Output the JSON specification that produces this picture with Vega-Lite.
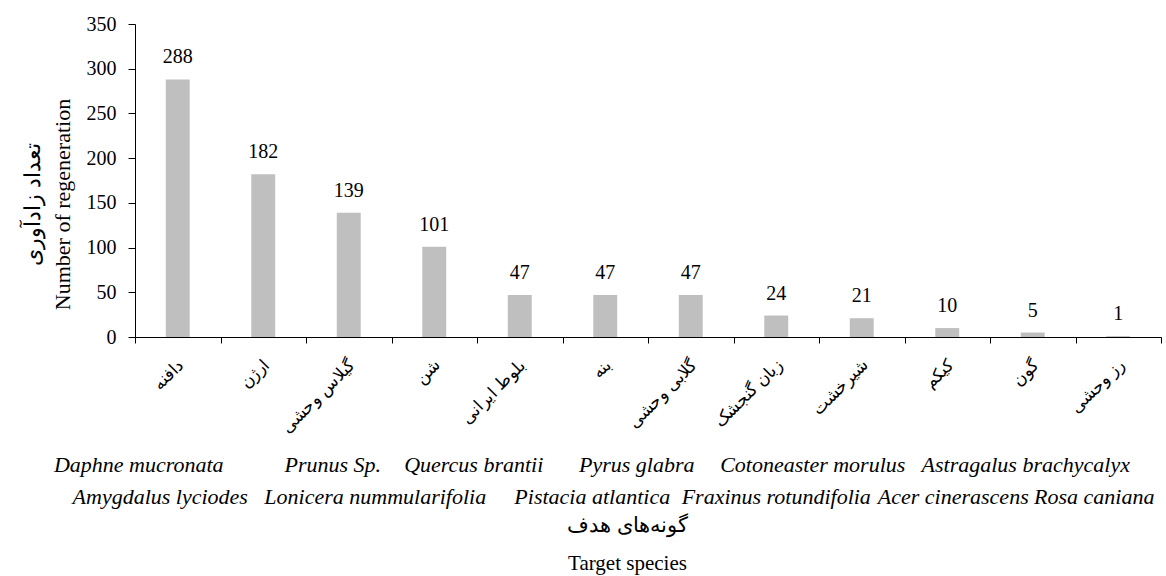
{
  "$schema": "https://vega.github.io/schema/vega-lite/v6.json",
  "width": 1026,
  "height": 313,
  "autosize": {"type": "none"},
  "padding": {"left": 135, "top": 24, "right": 5, "bottom": 239},
  "config": {
    "view": {"stroke": null},
    "font": "Liberation Serif",
    "axis": {
      "domainColor": "#000000",
      "tickColor": "#000000",
      "labelColor": "#000000",
      "titleColor": "#000000",
      "labelFont": "Liberation Serif",
      "titleFont": "Liberation Serif",
      "titleFontWeight": "normal",
      "grid": false,
      "labelLimit": 0
    }
  },
  "data": {
    "values": [
      {"sp": "دافنه|Daphne mucronata", "n": 288},
      {"sp": "ارژن|Amygdalus lyciodes", "n": 182},
      {"sp": "گیلاس وحشی|Prunus Sp.", "n": 139},
      {"sp": "شن|Lonicera nummularifolia", "n": 101},
      {"sp": "بلوط ایرانی|Quercus brantii", "n": 47},
      {"sp": "بنه|Pistacia atlantica", "n": 47},
      {"sp": "گلابی وحشی|Pyrus glabra", "n": 47},
      {"sp": "زبان گنجشک|Fraxinus rotundifolia", "n": 24},
      {"sp": "شیرخشت|Cotoneaster morulus", "n": 21},
      {"sp": "کیکم|Acer cinerascens", "n": 10},
      {"sp": "گون|Astragalus brachycalyx", "n": 5},
      {"sp": "رز وحشی|Rosa caniana", "n": 1}
    ]
  },
  "encoding": {
    "y": {
      "field": "n",
      "type": "quantitative",
      "scale": {"domain": [0, 350]},
      "axis": {
        "values": [0, 50, 100, 150, 200, 250, 300, 350],
        "labelFont": "Liberation Serif",
        "labelFontSize": 20,
        "tickSize": 7,
        "labelPadding": 12,
        "title": ["تعداد زادآوری", "Number of regeneration"],
        "titleFont": "Liberation Serif",
        "titleFontSize": 22,
        "titleLineHeight": 30,
        "titlePadding": 12,
        "titleY": 180
      }
    }
  },
  "layer": [
    {
      "mark": {"type": "bar", "color": "#bfbfbf", "width": {"band": 0.28}},
      "encoding": {
        "x": {
          "field": "sp",
          "type": "nominal",
          "sort": null,
          "scale": {"paddingInner": 0, "paddingOuter": 0},
          "axis": {
            "orient": "bottom",
            "labelExpr": "split(datum.label, '|')[0]",
            "labelAngle": -45,
            "labelAlign": "right",
            "labelBaseline": "middle",
            "labelFontSize": 17,
            "labelPadding": 19,
            "labelOffset": 3,
            "tickBand": "extent",
            "tickSize": 6,
            "title": null
          }
        }
      }
    },
    {
      "mark": {"type": "text", "baseline": "alphabetic", "dy": -16, "fontSize": 20, "color": "#000000"},
      "encoding": {
        "x": {
          "field": "sp",
          "type": "nominal",
          "sort": null,
          "scale": {"paddingInner": 0, "paddingOuter": 0},
          "axis": {
            "orient": "bottom",
            "offset": 115,
            "domain": false,
            "ticks": false,
            "labelAngle": 0,
            "labelExpr": "round(datum.index * 11) % 2 == 0 ? [split(datum.label, '|')[1], ''] : ['', split(datum.label, '|')[1]]",
            "labelFontStyle": "italic",
            "labelFontSize": 22,
            "labelLineHeight": 32,
            "labelBaseline": "top",
            "labelAlign": "center",
            "labelPadding": 2,
            "labelOffset": {
              "condition": [
                {"test": "round(datum.index * 11) == 0", "value": -39},
                {"test": "round(datum.index * 11) == 1", "value": -103},
                {"test": "round(datum.index * 11) == 2", "value": -16},
                {"test": "round(datum.index * 11) == 3", "value": -59},
                {"test": "round(datum.index * 11) == 4", "value": -46},
                {"test": "round(datum.index * 11) == 5", "value": -13},
                {"test": "round(datum.index * 11) == 6", "value": -54},
                {"test": "round(datum.index * 11) == 7", "value": 0},
                {"test": "round(datum.index * 11) == 8", "value": -49},
                {"test": "round(datum.index * 11) == 9", "value": 6},
                {"test": "round(datum.index * 11) == 10", "value": -7}
              ],
              "value": -24
            },
            "title": ["گونه\u200cهای هدف", "Target species"],
            "titleFontSize": 21,
            "titleLineHeight": 38,
            "titlePadding": 7,
            "titleX": 492
          }
        },
        "text": {"field": "n", "type": "quantitative"}
      }
    }
  ],
  "resolve": {"axis": {"x": "independent"}}
}
